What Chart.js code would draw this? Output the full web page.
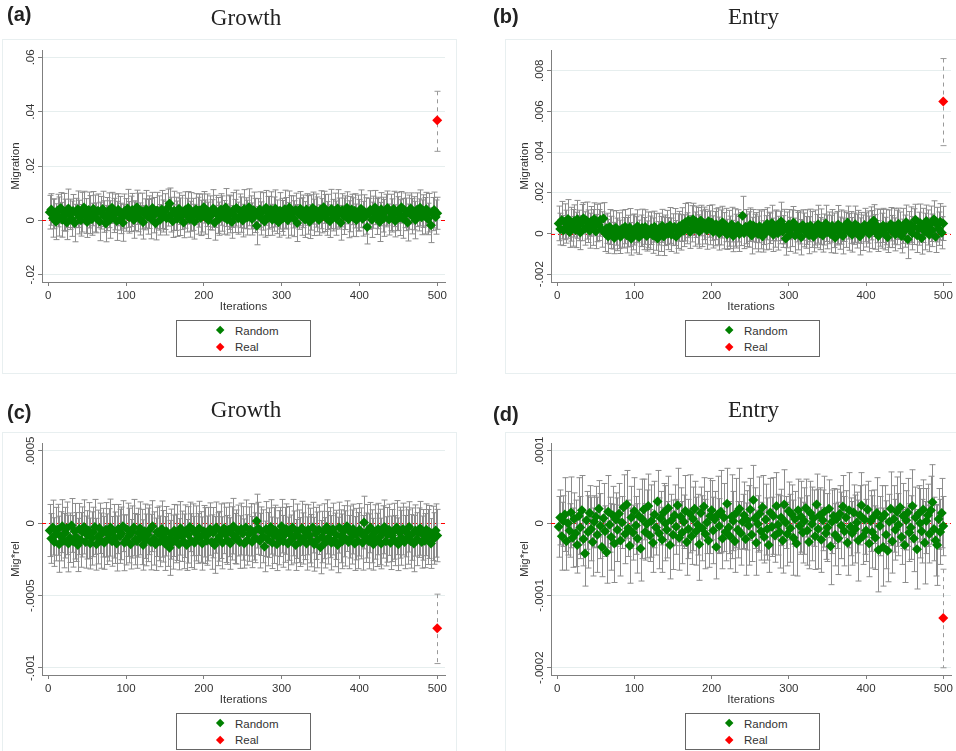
<!DOCTYPE html>
<html>
<head>
<meta charset="utf-8">
<title>Migration: random draws vs real</title>
<script src="https://cdn.jsdelivr.net/npm/chart.js@4.4.1/dist/chart.umd.min.js"></script>
<style>
  body { margin: 0; background: #fff; }
  #page { position: relative; width: 956px; height: 751px; overflow: hidden; font-family: "Liberation Sans", Arial, sans-serif; }
  .frame { position: absolute; border: 1px solid #e8eff0; box-sizing: border-box; }
  canvas { position: absolute; }
  .legend { position: absolute; width: 135px; height: 37px; box-sizing: border-box; border: 1px solid #666; background: #fff; }
  .legend .row { position: absolute; left: 0; height: 14px; line-height: 14px; font-size: 11.5px; color: #333; }
  .legend .dia { position: absolute; width: 6.4px; height: 6.4px; transform: rotate(45deg); }
</style>
</head>
<body>
<div id="page">
  <div class="frame" style="left:2px;top:39px;width:455px;height:335px"></div>
  <div class="frame" style="left:505px;top:39px;width:460px;height:335px"></div>
  <div class="frame" style="left:2px;top:432px;width:455px;height:340px"></div>
  <div class="frame" style="left:505px;top:432px;width:460px;height:340px"></div>
  <canvas id="panelA" width="478" height="375" style="left:0;top:0"></canvas>
  <canvas id="panelB" width="478" height="375" style="left:478px;top:0"></canvas>
  <canvas id="panelC" width="478" height="375" style="left:0;top:393px"></canvas>
  <canvas id="panelD" width="478" height="375" style="left:478px;top:393px"></canvas>
</div>
<script>
// one random draw shown every 2 iterations
const drawEvery = 2;
const iterTicks = [0, 100, 200, 300, 400, 500];

// (a) Growth / Migration, random draws (x 1e-4) and half-width of the interval
const growthMig = [
  30, 40, 8, 24, -5, 36, 14, 45, 2, 31,
  19, -8, 44, 22, 6, 34, -10, 27, 41, 12,
  0, 30, 47, 16, -6, 38, 21, 4, 43, 25,
  9, 35, -4, 28, 42, 14, -12, 23, 37, 3,
  46, 18, 31, -2, 39, 26, 7, -9, 33, 20,
  44, 11, 24, 38, 1, 17, 48, 29, 5, 34,
  -7, 22, 41, 13, 30, 6, 45, 19, -11, 36,
  27, 2, 40, 16, 32, 8, 47, 62, 21, -3,
  35, 24, 6, 43, 13, 29, -8, 38, 19, 46,
  4, 31, 22, -5, 41, 17, 36, 9, 27, 48,
  12, 37, 0, 28, 20, 44, -9, 33, 18, 6,
  40, 25, 11, 47, 3, 30, 22, -6, 38, 16,
  45, 8, 35, 21, -1, 42, 26, 10, 48, 29,
  5, 37, 18, -20, 24, 40, 7, 33, -4, 46,
  16, 28, 39, 2, 23, 44, 13, -7, 35, 20,
  9, 41, 26, 0, 47, 18, 31, 6, 38, -10,
  24, 43, 14, 33, 3, 40, 20, -5, 29, 45,
  11, 36, 22, 1, 39, 17, 48, 27, 7, 31,
  -3, 42, 19, 34, 8, 44, 25, -9, 37, 15,
  28, 46, 4, 23, 40, 12, 35, 0, 27, 19,
  43, 6, 33, 16, -25, 24, 39, 2, 30, 47,
  14, 27, -6, 41, 21, 9, 36, 45, 3, 29,
  18, 42, -2, 32, 25, 10, 48, 7, 37, 22,
  -8, 30, 44, 15, 26, 1, 39, 20, 46, 11,
  34, 17, 41, 5, 28, -18, 23, 38, 12, 26
];
const growthMigErr = [
  62, 58, 70, 55, 66, 60, 72, 57, 64, 68,
  59, 63, 71, 56, 65, 61, 69, 54, 67, 62,
  58, 73, 60, 64, 57, 66, 70, 59, 63, 68,
  55, 62, 71, 60, 65, 58, 67, 61, 64, 69,
  57, 63, 66, 72, 59, 62, 56, 68, 64, 60,
  70, 58, 65, 61, 67, 55, 63, 71, 59, 66,
  62, 57, 69, 64, 60, 74, 58, 65, 61, 67,
  63, 56, 70, 59, 66, 62, 68, 57, 64, 60,
  72, 61, 65, 58, 69, 63, 56, 67, 62, 60,
  66, 71, 59, 64, 57, 68, 61, 65, 70, 58,
  63, 60, 67, 62, 56, 69, 64, 59, 66, 61,
  58, 65, 62, 70, 57, 63, 68, 60, 64, 61,
  66, 59, 62, 65, 60, 71, 57, 64, 68, 61,
  59, 67, 63, 70, 56, 65, 61, 69, 58, 64,
  72, 60, 66, 57, 63, 68, 62, 55, 67, 61,
  64, 70, 58, 65, 61, 73, 59, 66, 62, 68,
  57, 63, 69, 60, 66, 58, 71, 62, 65, 59,
  67, 61, 64, 56, 70, 63, 59, 68, 62, 65,
  60, 72, 58, 66, 63, 69, 57, 64, 61, 67,
  62, 59, 68, 65, 56, 71, 63, 60, 66, 58,
  69, 64, 61, 67, 62, 57, 70, 65, 59, 63,
  66, 58, 72, 61, 64, 68, 60, 63, 57, 67,
  61, 65, 59, 70, 62, 66, 58, 73, 64, 60,
  68, 63, 57, 65, 61, 69, 62, 59, 66, 64,
  60, 67, 62, 58, 71, 64, 61, 66, 63, 59
];
// real estimate: value, lower, upper
const growthMigReal = [0.0368, 0.0254, 0.0475];
const growthMigTicks = [-0.02, 0, 0.02, 0.04, 0.06];
const growthMigLabels = ['-.02', '0', '.02', '.04', '.06'];

// (b) Entry / Migration (x 1e-5)
const entryMig = [
  50, 22, 66, 15, 58, 34, 72, 8, 46, 28,
  62, 18, 70, 40, 5, 54, 75, 25, 64, 36,
  14, 60, 30, 72, 10, 52, 42, 68, 20, 74,
  2, 26, -14, 32, 6, 18, -22, 28, -4, 14,
  -16, 24, 4, 34, -8, 12, 30, -26, 6, 20,
  -6, 36, -18, 14, 28, 0, 32, -12, 18, 4,
  26, -10, 34, 8, -24, 22, -2, 38, -14, 16,
  30, 0, 40, -6, 20, 32, -16, 12, 36, 6,
  44, 14, 56, 26, 66, 8, 48, 70, 22, 58,
  38, 10, 64, 24, 50, 34, 16, 60, 28, 54,
  8, 24, 46, 36, 0, 30, 56, 14, 42, -4,
  26, 6, 44, -12, 30, 12, 38, -2, 22, 88,
  2, 34, 16, 20, 44, -10, 40, 10, 30, -2,
  36, 18, -14, 32, 4, 48, 14, 26, 52, -6,
  22, 40, 2, 30, 60, 10, 34, -24, 18, 44,
  -4, 26, 54, -10, 36, 12, 30, -18, 42, 18,
  6, 32, -8, 40, 20, -16, 30, 12, 46, 0,
  34, -10, 20, 50, 8, 28, -2, 38, 16, -20,
  26, 44, 2, 32, -12, 36, 18, 54, 8, 30,
  -6, 24, 46, 12, 34, -14, 28, 4, 42, 18,
  32, -2, 50, 20, 64, 8, 38, -12, 28, 14,
  40, 0, 32, -18, 24, 46, 10, 36, -4, 30,
  48, 16, -12, 38, 12, 56, -28, 28, 44, 2,
  34, 68, -8, 24, 52, -22, 40, 10, 62, 30,
  -6, 48, 16, 70, -16, 44, 24, 58, 4, 50
];
const entryMigErr = [
  85, 78, 92, 74, 88, 81, 95, 76, 83, 90,
  79, 87, 93, 75, 84, 89, 77, 82, 91, 80,
  86, 73, 88, 79, 84, 92, 76, 81, 87, 78,
  90, 74, 83, 86, 79, 94, 77, 85, 80, 88,
  82, 91, 75, 84, 87, 78, 93, 80, 86, 76,
  89, 81, 84, 77, 92, 79, 85, 74, 88, 82,
  80, 87, 76, 90, 83, 78, 86, 81, 94, 75,
  84, 79, 88, 82, 77, 91, 80, 85, 73, 87,
  83, 78, 92, 76, 86, 81, 89, 79, 84, 77,
  90, 82, 75, 88, 80, 85, 93, 78, 83, 87,
  79, 84, 76, 91, 81, 86, 78, 89, 82, 74,
  88, 80, 85, 77, 92, 83, 79, 86, 81, 95,
  76, 84, 80, 87, 82, 90, 78, 85, 73, 88,
  81, 93, 77, 86, 84, 79, 91, 75, 87, 82,
  89, 76, 83, 80, 94, 78, 85, 82, 88, 74,
  84, 90, 79, 86, 77, 92, 81, 87, 75, 83,
  78, 85, 91, 80, 88, 74, 86, 82, 93, 79,
  87, 81, 76, 89, 83, 78, 92, 80, 85, 77,
  82, 94, 79, 84, 88, 75, 86, 81, 90, 78,
  85, 77, 89, 83, 80, 91, 76, 87, 82, 84,
  79, 88, 81, 93, 78, 85, 83, 76, 90, 86,
  84, 80, 87, 75, 92, 82, 79, 88, 81, 85,
  77, 90, 83, 86, 79, 84, 95, 80, 87, 82,
  88, 76, 85, 81, 93, 79, 84, 90, 78, 86,
  83, 87, 80, 91, 77, 85, 82, 89, 79, 84
];
const entryMigReal = [0.00649, 0.00432, 0.0086];
const entryMigTicks = [-0.002, 0, 0.002, 0.004, 0.006, 0.008];
const entryMigLabels = ['-.002', '0', '.002', '.004', '.006', '.008'];

// (c) Growth / Mig*rel (x 1e-6)
const growthRel = [
  -50, -105, -30, -130, -75, -45, -145, -90, -20, -120,
  -65, -35, -140, -100, -15, -125, -55, -95, -150, -40,
  -115, -60, -25, -130, -80, -50, -140, -105, -60, -25,
  -145, -95, -35, -120, -65, -135, -45, -110, -80, -30,
  -125, -55, -100, -140, -40, -90, -70, -20, -135, -115,
  -45, -85, -145, -60, -30, -110, -125, -65, -35, -95,
  -150, -55, -115, -80, -45, -130, -20, -105, -145, -60,
  -70, -125, -40, -90, -140, -55, -115, -170, -75, -130,
  -50, -105, -65, -145, -35, -90, -125, -55, -150, -80,
  -25, -120, -45, -135, -70, -105, -35, -95, -140, -55,
  -85, -120, -75, -40, -130, -65, -150, -30, -110, -90,
  -55, -135, -35, -80, -115, -45, -140, -70, -20, -105,
  -95, -50, -130, -40, -70, -140, -30, -115, -75, -45,
  -130, -60, -100, 15, -35, -120, -55, -90, -160, -40,
  -110, -65, -25, -135, -85, -50, -145, -100, -60, -20,
  -125, -80, -40, -140, -70, -115, -30, -95, -150, -55,
  -90, -130, -35, -105, -60, -140, -45, -85, -120, -30,
  -145, -70, -115, -45, -165, -95, -55, -135, -25, -100,
  -65, -135, -40, -115, -80, -150, -30, -90, -125, -55,
  -105, -20, -130, -60, -95, -40, -140, -75, -120, -45,
  -70, -135, 5, -100, -55, -125, -30, -90, -145, -60,
  -115, -40, -95, -140, -60, -25, -125, -80, -45, -135,
  -85, -55, -120, -30, -145, -65, -100, -40, -130, -60,
  -95, -25, -125, -75, -140, -50, -110, -65, -35, -130,
  -80, -120, -45, -95, -60, -140, -70, -105, -50, -85
];
const growthRelErr = [
  180, 172, 190, 168, 185, 176, 194, 170, 183, 188,
  175, 182, 196, 171, 186, 178, 192, 169, 184, 177,
  189, 173, 187, 180, 167, 193, 176, 184, 171, 190,
  179, 186, 174, 191, 168, 183, 188, 175, 181, 197,
  172, 185, 178, 190, 170, 187, 182, 176, 193, 173,
  184, 189, 171, 180, 195, 177, 186, 169, 183, 191,
  174, 188, 179, 185, 172, 192, 176, 184, 181, 170,
  189, 175, 194, 178, 186, 171, 183, 190, 173, 187,
  180, 168, 192, 177, 185, 174, 189, 182, 176, 195,
  171, 186, 179, 183, 190, 172, 187, 175, 184, 178,
  193, 170, 185, 181, 188, 174, 196, 177, 183, 172,
  189, 180, 175, 191, 169, 186, 178, 184, 192, 173,
  187, 176, 182, 179, 185, 170, 191, 174, 188, 181,
  177, 194, 172, 186, 180, 189, 168, 183, 175, 190,
  184, 171, 188, 178, 193, 175, 182, 187, 170, 185,
  179, 190, 174, 183, 186, 172, 195, 180, 176, 188,
  182, 169, 187, 177, 191, 184, 173, 189, 181, 175,
  186, 180, 193, 171, 184, 178, 190, 174, 187, 182,
  173, 188, 179, 185, 170, 192, 176, 183, 189, 177,
  191, 175, 184, 180, 187, 172, 186, 178, 194, 181,
  176, 189, 182, 171, 185, 190, 174, 183, 179, 188,
  184, 178, 192, 175, 181, 186, 170, 189, 177, 185,
  180, 193, 173, 187, 182, 176, 190, 179, 184, 172,
  188, 174, 185, 181, 195, 177, 183, 171, 186, 180,
  175, 187, 179, 190, 183, 172, 188, 178, 184, 181
];
const growthRelReal = [-0.000726, -0.00097, -0.00049];
const growthRelTicks = [-0.001, -0.0005, 0, 0.0005];
const growthRelLabels = ['-.001', '-.0005', '0', '.0005'];

// (d) Entry / Mig*rel (x 1e-6)
const entryRel = [
  -5, 8, -18, 3, 12, -25, 0, -10, 15, -20,
  6, -14, -30, 10, -6, 18, -22, -42, 4, -12,
  14, -8, -26, 2, 9, -16, 20, -4, -33, 7,
  -11, -40, 16, -2, -19, 11, -28, 5, -9, 13,
  -24, 1, 22, -15, 26, -7, -31, 8, -13, 17,
  -3, -21, 10, -35, 6, 19, -12, -1, 24, -17,
  3, -27, 12, -6, 30, -14, 7, -23, 15, 0,
  -9, 21, -30, 4, -16, 11, -5, 25, -20, 9,
  -13, 2, 17, -26, -8, 13, -18, 6, 20, -11,
  -2, -29, 14, -7, 23, -15, 1, -24, 10, 18,
  -10, 5, -33, 12, -4, 16, -21, 8, -12, 27,
  -6, -18, 9, 3, -25, 14, -9, 20, -14, 2,
  11, -22, 4, -3, 19, -16, 32, 7, -27, -1,
  13, -11, 22, -19, 5, -8, -30, 15, -5, 10,
  -17, 24, -2, -12, 8, -24, 26, 1, -15, 17,
  -7, 12, -20, 6, -28, 18, -4, 9, -13, 3,
  21, -10, -26, 14, -1, 7, -18, 26, -8, 11,
  -23, 4, 16, -14, -6, 20, -32, 2, 10, -16,
  6, -21, 13, -3, 23, -11, 8, -27, 18, -5,
  -14, 15, -8, 1, -24, 11, 25, -18, 5, -10,
  19, -28, 3, -12, 9, -20, 14, -37, -4, 7,
  -33, 12, -16, -38, 2, 20, -25, 6, -9, 16,
  -2, 22, -19, 10, -30, 4, 15, -13, -6, 24,
  -21, 8, -36, 13, 0, -11, 19, -27, 3, 11,
  -15, 18, 29, -8, -24, -30, 6, -12, 14, -4
];
const entryRelErr = [
  42, 38, 47, 35, 51, 40, 44, 37, 49, 41,
  36, 46, 39, 53, 43, 48, 37, 45, 40, 50,
  38, 44, 47, 36, 42, 52, 39, 45, 41, 48,
  35, 43, 50, 38, 46, 40, 54, 37, 44, 42,
  49, 36, 45, 41, 47, 39, 52, 43, 38, 46,
  40, 48, 37, 45, 55, 42, 39, 47, 44, 36,
  50, 41, 46, 38, 43, 49, 37, 45, 40, 52,
  39, 44, 47, 36, 48, 42, 38, 51, 45, 40,
  43, 37, 49, 46, 41, 54, 39, 44, 38, 47,
  42, 50, 36, 45, 40, 48, 43, 37, 52, 41,
  46, 39, 44, 53, 38, 57, 42, 47, 40, 49,
  36, 45, 58, 41, 43, 48, 39, 56, 44, 38,
  46, 50, 41, 55, 43, 37, 48, 42, 45, 39,
  51, 40, 44, 36, 49, 43, 38, 47, 41, 53,
  37, 46, 42, 50, 39, 45, 48, 36, 44, 40,
  47, 41, 52, 38, 45, 43, 39, 49, 42, 46,
  40, 48, 37, 44, 51, 39, 46, 42, 55, 38,
  45, 42, 49, 36, 47, 40, 53, 44, 38, 43,
  41, 50, 39, 46, 43, 48, 37, 45, 52, 40,
  44, 38, 47, 42, 56, 41, 45, 39, 48, 43,
  39, 46, 42, 50, 37, 44, 49, 58, 41, 45,
  54, 40, 47, 43, 38, 51, 44, 46, 42, 48,
  43, 49, 38, 45, 52, 41, 47, 40, 44, 50,
  46, 42, 55, 39, 48, 44, 41, 57, 45, 43,
  40, 47, 52, 44, 49, 56, 42, 45, 48, 41
];
const entryRelReal = [-0.000131, -0.0002, -0.0000636];
const entryRelTicks = [-0.0002, -0.0001, 0, 0.0001];
const entryRelLabels = ['-.0002', '-.0001', '0', '.0001'];

const randomColor = '#008000';
const realColor = '#ff0000';
const legendLabels = ['Random', 'Real'];

const panels = [
  { canvas: 'panelA', col: 0, row: 0, tag: '(a)', tagX: 7, tagY: 21, title: 'Growth', titleY: 25, yTitle: 'Migration',
    unit: 1e-4, vals: growthMig, errs: growthMigErr, real: growthMigReal, ticks: growthMigTicks, labels: growthMigLabels, yMin: -0.0227, yMax: 0.0627 },
  { canvas: 'panelB', col: 1, row: 0, tag: '(b)', tagX: 15, tagY: 23, title: 'Entry', titleY: 23.5, yTitle: 'Migration',
    unit: 1e-5, vals: entryMig, errs: entryMigErr, real: entryMigReal, ticks: entryMigTicks, labels: entryMigLabels, yMin: -0.00238, yMax: 0.00902 },
  { canvas: 'panelC', col: 0, row: 1, tag: '(c)', tagX: 7, tagY: 26, title: 'Growth', titleY: 24, yTitle: 'Mig*rel',
    unit: 1e-6, vals: growthRel, errs: growthRelErr, real: growthRelReal, ticks: growthRelTicks, labels: growthRelLabels, yMin: -0.001049, yMax: 0.000555 },
  { canvas: 'panelD', col: 1, row: 1, tag: '(d)', tagX: 15, tagY: 28, title: 'Entry', titleY: 24, yTitle: 'Mig*rel',
    unit: 1e-6, vals: entryRel, errs: entryRelErr, real: entryRelReal, ticks: entryRelTicks, labels: entryRelLabels, yMin: -0.000210, yMax: 0.000111 }
];

// zero reference line, error bars, and the texts drawn by hand
const statPlot = {
  id: 'statPlot',
  beforeDatasetsDraw(chart) {
    const { ctx, chartArea, scales: { x, y } } = chart;
    const y0 = Math.round(y.getPixelForValue(0)) + 0.5;
    ctx.save();
    ctx.lineWidth = 1;
    ctx.strokeStyle = realColor;
    ctx.setLineDash([4, 3]);
    ctx.beginPath();
    ctx.moveTo(chartArea.left, y0);
    ctx.lineTo(chartArea.right, y0);
    ctx.stroke();

    chart.data.datasets.forEach(ds => {
      ctx.strokeStyle = ds.errColor;
      ds.data.forEach(pt => {
        const px = Math.round(x.getPixelForValue(pt.x)) + 0.5;
        const top = y.getPixelForValue(pt.hi);
        const bot = y.getPixelForValue(pt.lo);
        ctx.setLineDash(ds.errDash);
        ctx.beginPath();
        ctx.moveTo(px, top);
        ctx.lineTo(px, bot);
        ctx.stroke();
        ctx.setLineDash([]);
        ctx.beginPath();
        ctx.moveTo(px - 3, top); ctx.lineTo(px + 3, top);
        ctx.moveTo(px - 3, bot); ctx.lineTo(px + 3, bot);
        ctx.stroke();
      });
    });
    ctx.restore();
  },
  afterDraw(chart, args, opts) {
    const { ctx, chartArea, scales: { y } } = chart;
    ctx.save();
    ctx.fillStyle = '#222';
    ctx.textBaseline = 'alphabetic';
    ctx.textAlign = 'left';
    ctx.font = 'bold 20px "Liberation Sans"';
    ctx.fillText(opts.tag, opts.tagX, opts.tagY);
    ctx.textAlign = 'center';
    ctx.font = '23px "Liberation Serif"';
    ctx.fillText(opts.title, (chartArea.left + chartArea.right) / 2 + 2.5, opts.titleY);

    ctx.fillStyle = '#333';
    ctx.font = '11.5px "Liberation Sans"';
    ctx.textBaseline = 'middle';
    opts.ticks.forEach((v, i) => {
      ctx.save();
      ctx.translate(chartArea.left - 11.5, y.getPixelForValue(v));
      ctx.rotate(-Math.PI / 2);
      ctx.fillText(opts.labels[i], 0, 0);
      ctx.restore();
    });
    ctx.restore();
  }
};

const axisFont = { family: 'Liberation Sans', size: 11.5 };

function makePanel(p) {
  const randomPts = p.vals.map((v, i) => ({
    x: (i + 1) * drawEvery,
    y: v * p.unit,
    lo: (v - p.errs[i]) * p.unit,
    hi: (v + p.errs[i]) * p.unit
  }));
  const realPt = { x: 500, y: p.real[0], lo: p.real[1], hi: p.real[2] };

  new Chart(document.getElementById(p.canvas), {
    type: 'scatter',
    data: {
      datasets: [
        { label: legendLabels[0], data: randomPts, pointStyle: 'rectRot', pointRadius: 5, backgroundColor: randomColor,
          borderWidth: 0, errColor: '#8c8c8c', errDash: [] },
        { label: legendLabels[1], data: [realPt], pointStyle: 'rectRot', pointRadius: 5, backgroundColor: realColor,
          borderWidth: 0, errColor: '#999999', errDash: [4, 4] }
      ]
    },
    options: {
      responsive: false,
      animation: false,
      events: [],
      layout: { padding: { left: p.col ? 31 : 0, right: p.col ? 2 : 33, top: 50, bottom: 61 } },
      plugins: {
        legend: { display: false },
        tooltip: { enabled: false },
        statPlot: { tag: p.tag, tagX: p.tagX, tagY: p.tagY, title: p.title, titleY: p.titleY, ticks: p.ticks, labels: p.labels }
      },
      scales: {
        x: {
          type: 'linear', min: -8, max: 510,
          afterBuildTicks: s => { s.ticks = iterTicks.map(v => ({ value: v })); },
          afterFit: s => { s.height = 32; },
          ticks: { color: '#333', font: axisFont, padding: 3, maxRotation: 0, autoSkip: false },
          grid: { drawOnChartArea: false, tickLength: 4, tickColor: '#7f7f7f' },
          border: { color: '#7f7f7f', width: 1 },
          title: { display: true, text: 'Iterations', color: '#333', font: axisFont, padding: 0 }
        },
        y: {
          type: 'linear', min: p.yMin, max: p.yMax,
          afterBuildTicks: s => { s.ticks = p.ticks.map(v => ({ value: v })); },
          afterFit: s => { s.width = 42; },
          ticks: { display: false },
          grid: { color: '#e6eeee', tickLength: 4, tickColor: '#7f7f7f' },
          border: { color: '#7f7f7f', width: 1 },
          title: { display: true, text: p.yTitle, color: '#333', font: axisFont, padding: { top: 9, bottom: 0 } }
        }
      }
    },
    plugins: [statPlot]
  });

  // legend box under the plot
  const box = document.createElement('div');
  box.className = 'legend';
  box.style.left = (176 + p.col * 509) + 'px';
  box.style.top = (320 + p.row * 393) + 'px';
  [randomColor, realColor].forEach((c, i) => {
    const row = document.createElement('div');
    row.className = 'row';
    row.style.top = (i === 0 ? 2.5 : 19) + 'px';
    const dia = document.createElement('span');
    dia.className = 'dia';
    dia.style.background = c;
    dia.style.left = '40.3px';
    dia.style.top = '3.8px';
    const txt = document.createElement('span');
    txt.style.position = 'absolute';
    txt.style.left = '58px';
    txt.textContent = legendLabels[i];
    row.appendChild(dia);
    row.appendChild(txt);
    box.appendChild(row);
  });
  document.getElementById('page').appendChild(box);
}

panels.forEach(makePanel);
</script>
</body>
</html>
